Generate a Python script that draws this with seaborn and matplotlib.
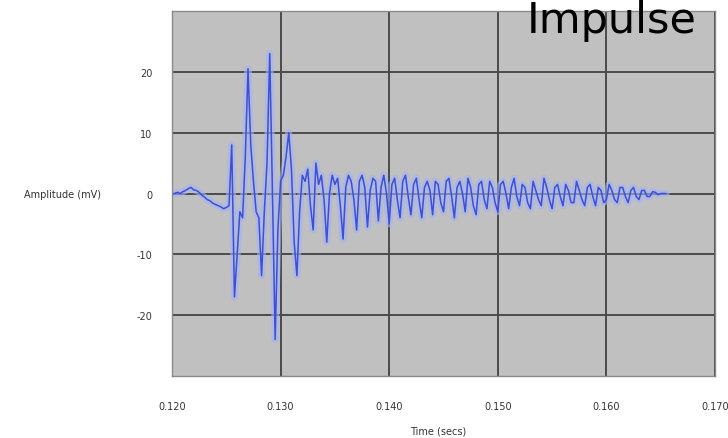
import numpy as np
import pandas as pd
import seaborn as sns
import matplotlib.pyplot as plt

# Impulse response (mV), one sample every 0.25 ms from 0.120 s
t_start = 0.120
dt = 0.00025
amplitude = [
    0, 0, 0.2, 0, 0.3, 0.5, 0.8, 1.0, 0.6,
    0.5, 0.2, -0.3, -0.6, -1.0, -1.2, -1.6, -1.8, -2.0, -2.2, -2.5, -2.3, -2.0,
    8, -17, -10, -3, -4, 6, 20.5, 8, 2, -3, -4, -13.5, -3, 5,
    23, 0, -24, -6, 2, 3, 6, 10, 4, -8, -13.5, -3, 3, 2, 4, -2, -6, 5,
    1.5, 3, -1, -8, 0, 3, 1.5,
    2.5, -2, -7.5, 1, 3, 2, -1, -6, 2, 3,
    1, -5.5, 0.5, 2.5, 2, -4.5, 1, 3, 0, -5,
    1.5, 2.5, -1, -4, 2, 3, -0.5, -3.5, 1.5, 2.5,
    -1, -4, 1, 2, 0.5, -3.5, 2, 1.5, -1.5, -3,
    2, 2.5, -0.5, -4, 1, 2, 0, -3, 2.5, 1,
    -2, -3.5, 1.5, 2, -1, -2.5, 2, 1, -1.5, -3,
    1.5, 2, 0, -2.5, 1, 2.5, -0.5, -2, 1.5, 1,
    -1.5, -2.5, 2, 0.5, -1, -2, 2.5, 1, -1, -2.5,
    1, 1.5, -0.5, -2, 1.5, 0.5, -1.5, -1.5, 2, 0.5,
    -1, -2, 1, 1.5, -0.5, -2, 1, 0.5, -1.5, -1,
    1.5, 0.5, -1, -1.5, 1, 1, -0.5, -1.5, 0.5, 1,
    -0.5, -1, 0.5, 0.5, -0.5, -0.5, 0.3, 0.2, -0.2, 0, 0, 0,
]
x_ticks = [0.120, 0.130, 0.140, 0.150, 0.160, 0.170]
x_labels = ["0.120", "0.130", "0.140", "0.150", "0.160", "0.170"]
y_ticks = [-20, -10, 0, 10, 20]
y_labels = ["-20", "-10", "0", "10", "20"]

df = pd.DataFrame({"time": t_start + dt * np.arange(len(amplitude)),
                   "amp": amplitude})

sns.set_style("white", {"axes.facecolor": "#c0c0c0"})
plt.rcParams["font.family"] = ["DejaVu Sans"]

fig = plt.figure(figsize=(7.28, 4.39), dpi=100)
ax = fig.add_axes([172 / 728, 1 - 377 / 439, 543 / 728, 365 / 439])

# soft halo under the trace, then the trace itself
sns.lineplot(data=df, x="time", y="amp", ax=ax, color="#a3b2f4", lw=5, alpha=0.6)
sns.lineplot(data=df, x="time", y="amp", ax=ax, color="#3b4fd8", lw=1.1)

ax.set_xlim(0.120, 0.170)
ax.set_ylim(-30, 30)
ax.set_xticks(x_ticks)
ax.set_xticklabels(x_labels)
ax.set_yticks(y_ticks)
ax.set_yticklabels(y_labels)
ax.grid(True, color="#4a4a4a", lw=1.4)
ax.set_axisbelow(True)
for s in ax.spines.values():
    s.set_color("#8a8a8a")
    s.set_linewidth(1)
ax.tick_params(axis="x", length=0, pad=18, labelsize=7, labelcolor="#333333")
ax.tick_params(axis="y", length=0, pad=14, labelsize=7, labelcolor="#333333")

ax.set_xlabel("Time (secs)", fontsize=7, color="#333333")
ax.xaxis.set_label_coords(0.49, -0.135)
ax.set_ylabel("Amplitude (mV)", fontsize=7, color="#333333", rotation=0,
              ha="right", va="center")
ax.yaxis.set_label_coords(-0.13, 0.5)

fig.text(527 / 728, 1 - 33 / 439, "Impulse", fontsize=31, color="black",
         va="baseline", ha="left")

fig.savefig("out.png", dpi=100)
